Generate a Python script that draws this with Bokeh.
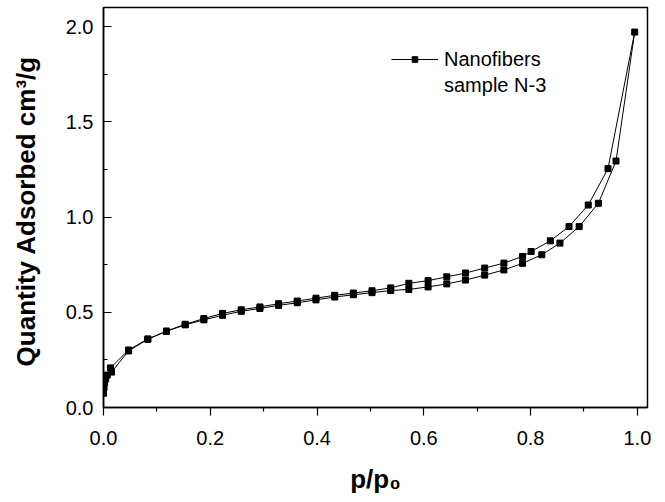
from bokeh.plotting import figure
from bokeh.models import Range1d, FixedTicker, Legend, LegendItem, NumeralTickFormatter
from bokeh.embed import file_html
from bokeh.resources import INLINE

# Adsorption branch (p/p0, quantity adsorbed cm3/g)
ads_x = [0.000, 0.001, 0.002, 0.004, 0.007, 0.015, 0.047, 0.083, 0.118, 0.153,
         0.188, 0.223, 0.258, 0.293, 0.328, 0.363, 0.398, 0.433, 0.468, 0.503,
         0.538, 0.572, 0.608, 0.643, 0.678, 0.714, 0.750, 0.785, 0.821, 0.855,
         0.891, 0.927, 0.960, 0.995]
ads_y = [0.075, 0.105, 0.130, 0.150, 0.170, 0.186, 0.297, 0.358, 0.400, 0.434,
         0.460, 0.484, 0.505, 0.520, 0.536, 0.550, 0.565, 0.580, 0.592, 0.603,
         0.614, 0.620, 0.633, 0.649, 0.669, 0.695, 0.722, 0.757, 0.802, 0.863,
         0.950, 1.072, 1.294, 1.971]

# Desorption branch
des_x = [0.945, 0.908, 0.872, 0.837, 0.801, 0.785, 0.750, 0.714, 0.678, 0.643,
         0.608, 0.572, 0.538, 0.503, 0.468, 0.433, 0.398, 0.363, 0.328, 0.293,
         0.258, 0.223, 0.188, 0.153, 0.118, 0.083, 0.047, 0.013]
des_y = [1.254, 1.063, 0.950, 0.875, 0.819, 0.793, 0.758, 0.732, 0.706, 0.686,
         0.666, 0.652, 0.628, 0.613, 0.601, 0.589, 0.574, 0.559, 0.545, 0.528,
         0.513, 0.494, 0.467, 0.437, 0.401, 0.360, 0.302, 0.208]

x_major = [0.0, 0.2, 0.4, 0.6, 0.8, 1.0]
x_minor = [0.1, 0.3, 0.5, 0.7, 0.9]
y_major = [0.0, 0.5, 1.0, 1.5, 2.0]
y_minor = [0.25, 0.75, 1.25, 1.75]

series_label_1 = "Nanofibers"
series_label_2 = "sample N-3"

all_x = ads_x + des_x
all_y = ads_y + des_y

FONT = "Liberation Sans"

p = figure(frame_width=544, frame_height=400,
           x_range=Range1d(0, 1.019), y_range=Range1d(0, 2.1),
           output_backend="svg", toolbar_location=None,
           min_border_left=103, min_border_top=7, min_border_right=4, min_border_bottom=79)

p.xgrid.visible = False
p.ygrid.visible = False
p.outline_line_color = "black"
p.outline_line_width = 1.5
p.outline_line_alpha = 1.0
p.background_fill_color = "white"
p.border_fill_color = "white"

xa = p.xaxis[0]
xa.ticker = FixedTicker(ticks=x_major, minor_ticks=x_minor)
xa.formatter = NumeralTickFormatter(format="0.0")
xa.major_tick_in = 0
xa.major_tick_out = 8
xa.minor_tick_in = 0
xa.minor_tick_out = 4
xa.major_label_standoff = 15
xa.axis_line_width = 1.5
xa.major_tick_line_width = 1.2
xa.minor_tick_line_width = 1.2
xa.major_label_text_font = FONT
xa.major_label_text_font_size = "20px"
xa.major_label_text_color = "black"
xa.axis_label = "p/p\u2080"
xa.axis_label_text_font = FONT
xa.axis_label_text_font_style = "bold"
xa.axis_label_text_font_size = "26px"
xa.axis_label_text_color = "black"
xa.axis_label_standoff = 16

ya = p.yaxis[0]
ya.ticker = FixedTicker(ticks=y_major, minor_ticks=y_minor)
ya.formatter = NumeralTickFormatter(format="0.0")
ya.major_tick_in = 8
ya.major_tick_out = 0
ya.minor_tick_in = 4
ya.minor_tick_out = 0
ya.major_label_standoff = 10
ya.axis_line_width = 1.5
ya.major_tick_line_width = 1.2
ya.minor_tick_line_width = 1.2
ya.major_label_text_font = FONT
ya.major_label_text_font_size = "20px"
ya.major_label_text_color = "black"
ya.axis_label = "Quantity Adsorbed  cm\u00b3/g"
ya.axis_label_text_font = FONT
ya.axis_label_text_font_style = "bold"
ya.axis_label_text_font_size = "26px"
ya.axis_label_text_color = "black"
ya.axis_label_standoff = 22

ln = p.line(all_x, all_y, line_color="black", line_width=1)
sc = p.scatter(all_x, all_y, marker="square", size=6, fill_color="black", line_color="black")
dummy = p.line([], [], line_alpha=0)

legend = Legend(items=[LegendItem(label=series_label_1, renderers=[ln, sc]),
                       LegendItem(label=series_label_2, renderers=[dummy])],
                location=(288, 309), padding=0, margin=0, spacing=0,
                glyph_width=47, glyph_height=14, label_height=26, label_standoff=6,
                label_text_font=FONT, label_text_font_size="20px",
                label_text_color="black",
                border_line_alpha=0, background_fill_alpha=0)
p.add_layout(legend)

open("out.html", "w").write(file_html(p, INLINE))
